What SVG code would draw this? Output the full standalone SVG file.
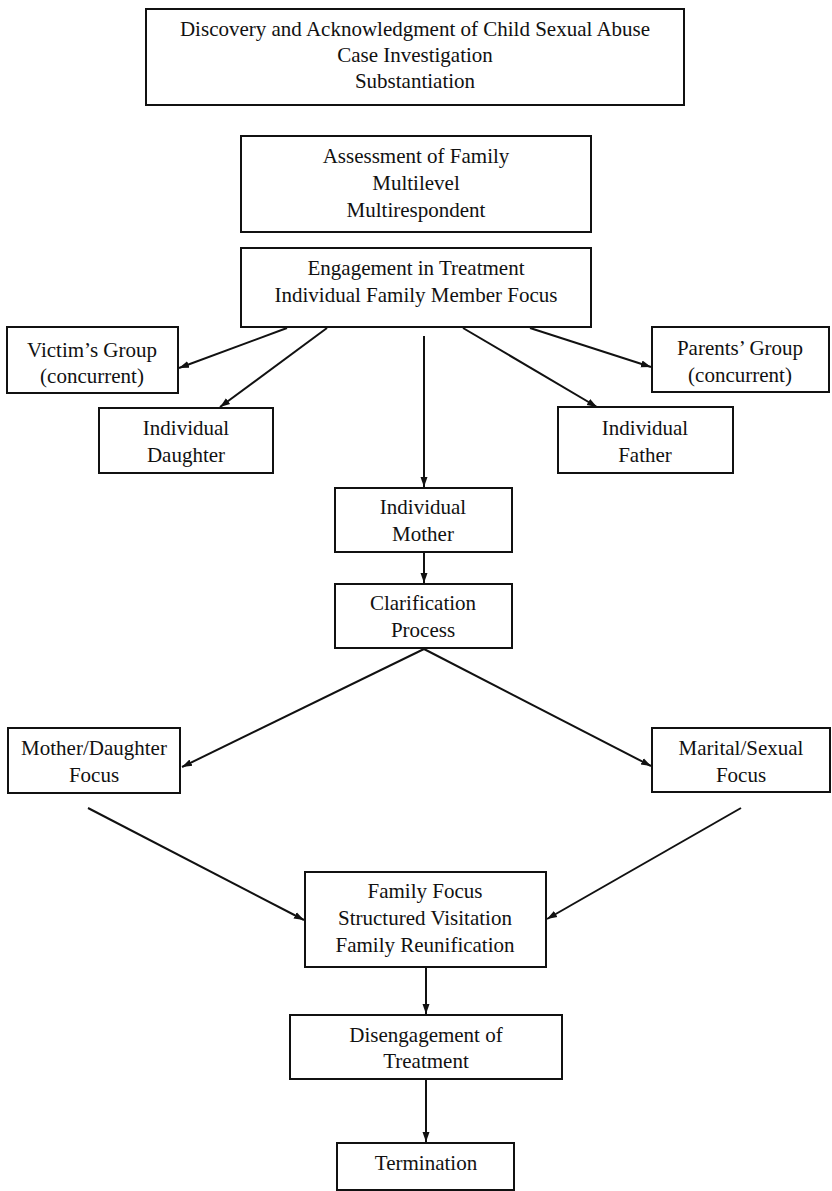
<svg xmlns="http://www.w3.org/2000/svg" width="832" height="1191" viewBox="0 0 832 1191">
<style>
.box{fill:#fff;stroke:#111;stroke-width:2}
.t{font-family:"Liberation Serif","Times New Roman",serif;font-size:21px;fill:#111;text-anchor:middle}
.c{stroke:#111;stroke-width:2;fill:none}
</style>
<defs>
<marker id="ah" viewBox="0 0 10 10" refX="10" refY="5" markerWidth="10" markerHeight="10" markerUnits="userSpaceOnUse" orient="auto">
<path d="M0,1.5 L10,5 L0,8.5 Z" fill="#111"/>
</marker>
</defs>
<rect width="832" height="1191" fill="#fff"/>
<g id="connectors">
<line class="c" x1="287" y1="328" x2="179" y2="368" marker-end="url(#ah)"/>
<line class="c" x1="327" y1="328" x2="220" y2="407" marker-end="url(#ah)"/>
<line class="c" x1="424" y1="336" x2="424" y2="487" marker-end="url(#ah)"/>
<line class="c" x1="463" y1="328" x2="597" y2="407" marker-end="url(#ah)"/>
<line class="c" x1="530" y1="328" x2="651" y2="367" marker-end="url(#ah)"/>
<line class="c" x1="424" y1="552" x2="424" y2="583" marker-end="url(#ah)"/>
<line class="c" x1="424" y1="649" x2="182" y2="767" marker-end="url(#ah)"/>
<line class="c" x1="424" y1="649" x2="651" y2="766" marker-end="url(#ah)"/>
<line class="c" x1="88" y1="808" x2="304" y2="920" marker-end="url(#ah)"/>
<line class="c" x1="741" y1="808" x2="547" y2="919" marker-end="url(#ah)"/>
<line class="c" x1="426" y1="967" x2="426" y2="1014" marker-end="url(#ah)"/>
<line class="c" x1="426" y1="1079" x2="426" y2="1142" marker-end="url(#ah)"/>
</g>
<g id="discovery">
<rect class="box" x="146" y="9" width="538" height="96"/>
<text class="t" x="415" y="36">Discovery and Acknowledgment of Child Sexual Abuse</text>
<text class="t" x="415" y="62">Case Investigation</text>
<text class="t" x="415" y="88">Substantiation</text>
</g>
<g id="assessment">
<rect class="box" x="241" y="136" width="350" height="96"/>
<text class="t" x="416" y="163">Assessment of Family</text>
<text class="t" x="416" y="190">Multilevel</text>
<text class="t" x="416" y="217">Multirespondent</text>
</g>
<g id="engagement">
<rect class="box" x="241" y="248" width="350" height="79"/>
<text class="t" x="416" y="275">Engagement in Treatment</text>
<text class="t" x="416" y="302">Individual Family Member Focus</text>
</g>
<g id="victims-group">
<rect class="box" x="7" y="327" width="171" height="66"/>
<text class="t" x="92" y="357">Victim’s Group</text>
<text class="t" x="92" y="383">(concurrent)</text>
</g>
<g id="parents-group">
<rect class="box" x="652" y="327" width="177" height="65"/>
<text class="t" x="740" y="355">Parents’ Group</text>
<text class="t" x="740" y="382">(concurrent)</text>
</g>
<g id="individual-daughter">
<rect class="box" x="99" y="408" width="174" height="65"/>
<text class="t" x="186" y="435">Individual</text>
<text class="t" x="186" y="462">Daughter</text>
</g>
<g id="individual-father">
<rect class="box" x="558" y="407" width="175" height="66"/>
<text class="t" x="645" y="435">Individual</text>
<text class="t" x="645" y="462">Father</text>
</g>
<g id="individual-mother">
<rect class="box" x="335" y="488" width="177" height="64"/>
<text class="t" x="423" y="514">Individual</text>
<text class="t" x="423" y="541">Mother</text>
</g>
<g id="clarification">
<rect class="box" x="335" y="584" width="177" height="64"/>
<text class="t" x="423" y="610">Clarification</text>
<text class="t" x="423" y="637">Process</text>
</g>
<g id="mother-daughter">
<rect class="box" x="8" y="728" width="172" height="65"/>
<text class="t" x="94" y="755">Mother/Daughter</text>
<text class="t" x="94" y="782">Focus</text>
</g>
<g id="marital-sexual">
<rect class="box" x="652" y="728" width="178" height="64"/>
<text class="t" x="741" y="755">Marital/Sexual</text>
<text class="t" x="741" y="782">Focus</text>
</g>
<g id="family-focus">
<rect class="box" x="305" y="872" width="241" height="95"/>
<text class="t" x="425" y="898">Family Focus</text>
<text class="t" x="425" y="925">Structured Visitation</text>
<text class="t" x="425" y="952">Family Reunification</text>
</g>
<g id="disengagement">
<rect class="box" x="290" y="1015" width="272" height="64"/>
<text class="t" x="426" y="1042">Disengagement of</text>
<text class="t" x="426" y="1068">Treatment</text>
</g>
<g id="termination">
<rect class="box" x="337" y="1143" width="177" height="47"/>
<text class="t" x="426" y="1170">Termination</text>
</g>
</svg>
